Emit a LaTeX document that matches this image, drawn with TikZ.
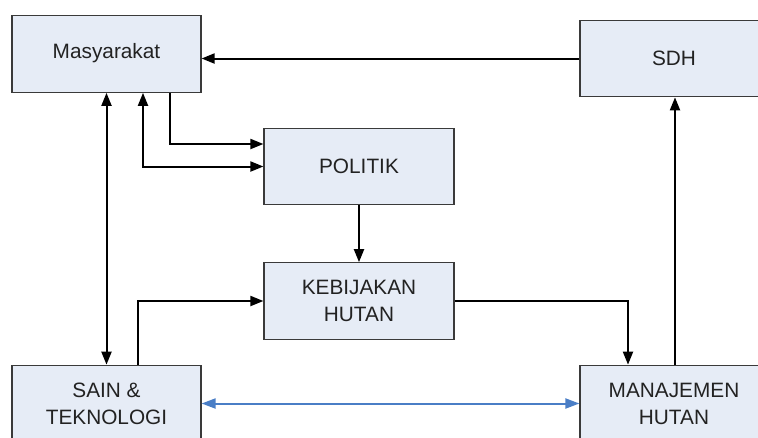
\documentclass[tikz,border=0pt]{standalone}
\usepackage{fontspec}
\setmainfont{Liberation Sans}
\usetikzlibrary{arrows.meta}
\definecolor{boxfill}{HTML}{E6ECF6}
\definecolor{boxline}{HTML}{3A3A3A}
\definecolor{txt}{HTML}{222222}
\definecolor{blueline}{HTML}{4A7EC6}
\begin{document}
\begin{tikzpicture}[x=1pt,y=-1pt,
  box/.style={draw=boxline,line width=1.2pt,fill=boxfill,minimum width=189pt,minimum height=76.5pt,
    inner sep=0pt,align=center,text=txt,font=\fontsize{20.8}{27}\selectfont},
  conn/.style={line width=2pt,-{Triangle[length=13pt,width=10pt]}},
  dconn/.style={line width=2pt,{Triangle[length=13pt,width=10pt]}-{Triangle[length=13pt,width=10pt]}},
  bconn/.style={line width=2pt,draw=blueline,{Triangle[length=14pt,width=10pt]}-{Triangle[length=14pt,width=10pt]},blueline}]
\useasboundingbox (0,0) rectangle (758,437);
\node[box] (M) at (106.5,54) {\raisebox{7pt}{Masyarakat}};
\node[box,minimum width=188pt] (SDH) at (674,58.5) {SDH};
\node[box,minimum width=190pt] (P) at (359,166.5) {POLITIK};
\node[box,minimum width=190pt] (K) at (359,301) {KEBIJAKAN\\HUTAN};
\node[box] (S) at (106.5,403.5) {SAIN \&\\TEKNOLOGI};
\node[box,minimum width=188pt] (MAN) at (674,403.5) {MANAJEMEN\\HUTAN};
\draw[conn] (SDH.west) -- (SDH.west -| M.east);
\draw[conn] ([xshift=63.5pt]M.south) |- ([yshift=22.5pt]P.west);
\draw[dconn] ([xshift=36.5pt]M.south) |- (P.west);
\draw[dconn] (M.south) -- (S.north);
\draw[conn] (P.south) -- (K.north);
\draw[conn] ([xshift=31.5pt]S.north) |- (K.west);
\draw[conn] (K.east) -| ([xshift=-46pt]MAN.north);
\draw[conn] ([xshift=1pt]MAN.north) -- ([xshift=1pt]SDH.south);
\draw[bconn] (S.east) -- (MAN.west);
\end{tikzpicture}
\end{document}
